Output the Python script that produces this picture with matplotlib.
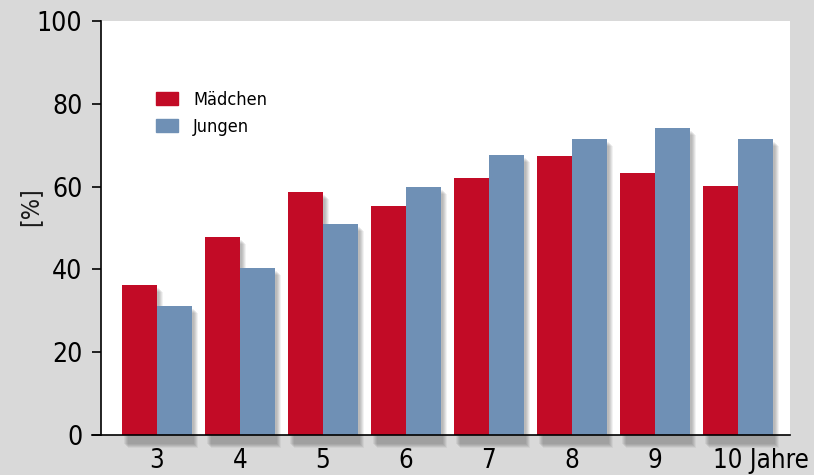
import numpy as np
import matplotlib
matplotlib.use('Agg')
import matplotlib.pyplot as plt
import matplotlib.patches as mpatches
import matplotlib.transforms as mtransforms

plt.rcParams['font.family'] = ['Liberation Sans Narrow', 'DejaVu Sans']
plt.rcParams['font.stretch'] = 'condensed'

# data
ages = ['3', '4', '5', '6', '7', '8', '9', '10 Jahre']
maedchen = [36.2, 47.8, 58.7, 55.3, 62.1, 67.4, 63.3, 60.1]
jungen = [31.2, 40.3, 51.0, 59.9, 67.6, 71.5, 74.2, 71.5]
series_names = ['Mädchen', 'Jungen']

red = '#c20b26'
blue = '#6f90b5'
bg = '#d9d9d9'

fig = plt.figure(figsize=(8.14, 4.75), dpi=100, facecolor=bg)
ax = fig.add_axes([101 / 814, 40 / 475, 689 / 814, 414 / 475])
ax.set_facecolor('white')

x = np.arange(len(ages))
w = 0.42

# soft drop shadow: a few offset grey layers behind the bars
for dx, dy, a in [(2, 3, 0.07), (3, 4, 0.08), (4, 5, 0.09), (5, 6, 0.08), (6, 7, 0.06)]:
    off = mtransforms.ScaledTranslation(dx / 100, -dy / 100, fig.dpi_scale_trans)
    for vals, shift in [(maedchen, -w), (jungen, 0)]:
        ax.bar(x + shift, np.array(vals) + 1.5, width=w, bottom=-1.5, align='edge',
               color='#303030', alpha=a, linewidth=0, clip_on=False,
               transform=ax.transData + off, zorder=1)

ax.bar(x - w, maedchen, width=w, align='edge', color=red, linewidth=0, zorder=3,
       label=series_names[0])
ax.bar(x, jungen, width=w, align='edge', color=blue, linewidth=0, zorder=3,
       label=series_names[1])

ax.set_xlim(-0.675, 7.627)
ax.set_ylim(0, 100)
ax.set_yticks([0, 20, 40, 60, 80, 100])
ax.tick_params(axis='y', direction='out', length=6.5, width=1.2, pad=7, labelsize=19)
ax.set_xticks(x)
ax.set_xticklabels(ages)
ax.tick_params(axis='x', length=0, pad=9, labelsize=18.5)
# "10 Jahre" sits right of its tick, ending at the figure edge
last = ax.get_xticklabels()[-1]
last.set_horizontalalignment('right')
last.set_transform(last.get_transform() +
                   mtransforms.ScaledTranslation(71 / 100, 0, fig.dpi_scale_trans))

for side in ['top', 'right']:
    ax.spines[side].set_visible(False)
ax.spines['left'].set_linewidth(1.2)
ax.spines['bottom'].set_linewidth(1.2)
ax.spines['bottom'].set_bounds(-0.675 - 9 / 83, 7.627)
ax.spines['bottom'].set_zorder(5)

fig.text(30 / 814, 1 - 207 / 475, '[%]', rotation=90, fontsize=18,
         ha='center', va='center', color='#1a1a1a')

handles = [mpatches.Patch(color=red), mpatches.Patch(color=blue)]
ax.legend(handles, series_names, loc='upper left',
          bbox_to_anchor=(156 / 814, 1 - 91 / 475), bbox_transform=fig.transFigure,
          frameon=False, fontsize=13, handlelength=1.2, handleheight=0.72,
          handletextpad=0.85, labelspacing=0.5, borderpad=0, borderaxespad=0)

plt.savefig('out.png', dpi=100, facecolor=bg)
